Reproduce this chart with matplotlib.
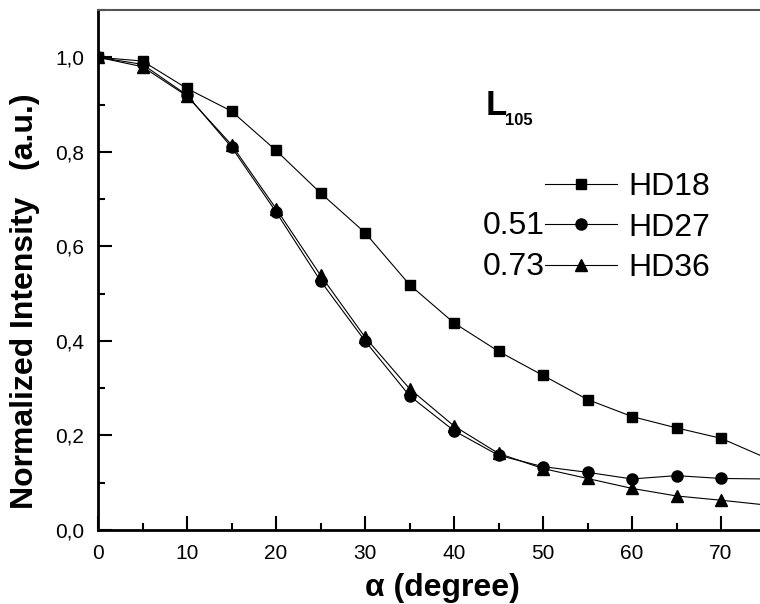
import numpy as np
import matplotlib
matplotlib.use('Agg')
import matplotlib.pyplot as plt
from matplotlib.ticker import MultipleLocator, FuncFormatter

plt.rcParams['font.family'] = ['Liberation Sans', 'DejaVu Sans']

# data
alpha = [0, 5, 10, 15, 20, 25, 30, 35, 40, 45, 50, 55, 60, 65, 70, 75]
hd18 = [1.0, 0.992, 0.934, 0.886, 0.803, 0.713, 0.629, 0.519, 0.438, 0.378,
        0.327, 0.276, 0.240, 0.216, 0.194, 0.153]
hd27 = [1.0, 0.985, 0.920, 0.810, 0.673, 0.527, 0.400, 0.284, 0.210, 0.158,
        0.134, 0.122, 0.108, 0.115, 0.109, 0.108]
hd36 = [1.0, 0.980, 0.918, 0.815, 0.680, 0.539, 0.408, 0.299, 0.220, 0.162,
        0.130, 0.109, 0.088, 0.072, 0.063, 0.053]
labels = ['HD18', 'HD27', 'HD36']
prefix = ['', '0.51', '0.73']

W, H = 760, 604
fig = plt.figure(figsize=(W / 100, H / 100), dpi=100)
ax = fig.add_axes([98 / W, 1 - 530 / H, (765.5 - 98) / W, 520 / H])

kw = dict(color='black', lw=0.8, clip_on=True)
h1, = ax.plot(alpha, hd18, marker='s', ms=7.5, **kw)
h2, = ax.plot(alpha, hd27, marker='o', ms=8, **kw)
h3, = ax.plot(alpha, hd36, marker='^', ms=8.5, **kw)

ax.set_xlim(0, 75)
ax.set_ylim(0, 1.1)
ax.xaxis.set_major_locator(MultipleLocator(10))
ax.xaxis.set_minor_locator(MultipleLocator(5))
ax.yaxis.set_major_locator(MultipleLocator(0.2))
ax.yaxis.set_minor_locator(MultipleLocator(0.1))
ax.yaxis.set_major_formatter(FuncFormatter(lambda v, p: ('%.1f' % v).replace('.', ',')))
ax.tick_params(which='major', direction='in', length=10, width=1.5, labelsize=15, pad=10)
ax.tick_params(which='minor', direction='in', length=5, width=1.5)
ax.tick_params(top=False, right=False, which='both')

for s in ['left', 'bottom']:
    ax.spines[s].set_linewidth(2)
ax.spines['top'].set_linewidth(1.5)
ax.spines['top'].set_color('#555555')
ax.spines['right'].set_visible(False)

fig.text(442 / W, 1 - 588 / H, '\u03b1 (degree)', fontsize=23, fontweight='bold',
         ha='center', va='center')
fig.text(25 / W, 1 - 301 / H, 'Normalized Intensity   (a.u.)', fontsize=23,
         fontweight='bold', rotation=90, ha='center', va='center')

# L105 label
fig.text(486 / W, 1 - 115 / H, 'L', fontsize=25, fontweight='bold', ha='left', va='baseline')
fig.text(505 / W, 1 - 125 / H, '105', fontsize=12, fontweight='bold', ha='left', va='baseline')

leg = ax.legend([h1, h2, h3], labels, frameon=False, fontsize=23,
                handlelength=2.25, handletextpad=0.35, labelspacing=0.33,
                loc='upper left', bbox_to_anchor=(545 / W, 1 - 172 / H),
                bbox_transform=fig.transFigure, borderpad=0, borderaxespad=0)
for i, p in enumerate(prefix):
    if p:
        fig.text(545 / W, 1 - (183 + 41 * i + 2) / H, p, fontsize=23, ha='right', va='center')

fig.savefig('out.png', dpi=100)
